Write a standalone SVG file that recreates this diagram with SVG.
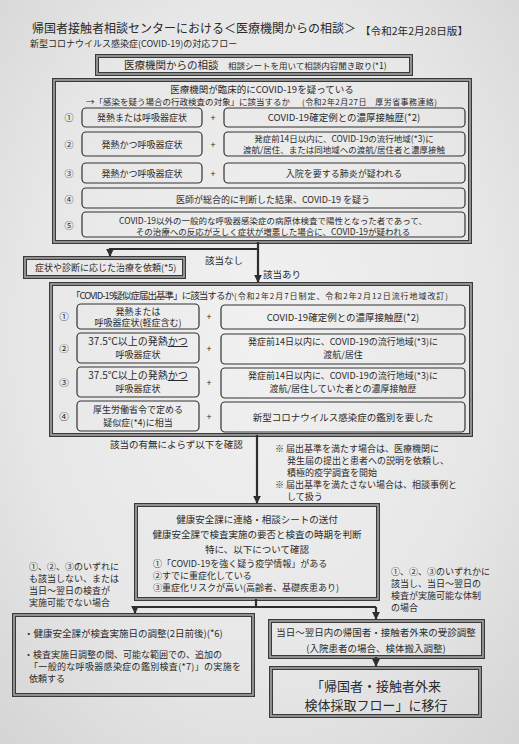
<svg xmlns="http://www.w3.org/2000/svg" width="519" height="744" viewBox="0 0 519 744">
<defs>
<radialGradient id="paper" cx="0.5" cy="0.45" r="0.75">
<stop offset="0" stop-color="#f1f1f1"/>
<stop offset="0.6" stop-color="#e7e7e7"/>
<stop offset="1" stop-color="#d4d4d4"/>
</radialGradient>
<marker id="arr" viewBox="0 0 10 10" refX="9" refY="5" markerWidth="3.6" markerHeight="3.6" orient="auto" markerUnits="strokeWidth">
<path d="M0,0 L10,5 L0,10 z" fill="#2e2e2e"/>
</marker>
</defs>
<style>
text{font-family:"Noto Sans CJK JP","Noto Sans",sans-serif;fill:#2a2a2a;}
.t12{font-size:12.5px;}
.t9{font-size:9px;}
.t85{font-size:8.5px;}
.t95{font-size:9.5px;}
.t8{font-size:8px;}
.big{font-size:13px;}
.m{text-anchor:middle;}
.dblo{fill:none;stroke:#3a3a3a;stroke-width:4;}
.dbli{fill:none;stroke:#a6a6a6;stroke-width:1.6;}
.rb{fill:none;stroke:#333;stroke-width:1.2;}
.con{fill:none;stroke:#2e2e2e;stroke-width:2.2;}
</style>
<rect x="0" y="0" width="519" height="744" fill="url(#paper)"/>

<g id="title">
<text class="t12" x="32" y="32.5" textLength="324" lengthAdjust="spacingAndGlyphs">帰国者接触者相談センターにおける＜医療機関からの相談＞</text>
<text x="360" y="35" style="font-size:10px" textLength="108" lengthAdjust="spacingAndGlyphs">【令和2年2月28日版】</text>
<text class="t9" x="30" y="46.5">新型コロナウイルス感染症(COVID-19)の対応フロー</text>
</g>

<g id="n-consult">
<rect class="dblo" x="97" y="56" width="314" height="18"/>
<rect class="dbli" x="97" y="56" width="314" height="18"/>
<text x="124" y="68.5" style="font-size:10.5px">医療機関からの相談</text>
<text x="228" y="68.5" style="font-size:8.5px">相談シートを用いて相談内容聞き取り(*1)</text>
</g>

<g id="n-boxA">
<rect class="dblo" x="54" y="80" width="416" height="162"/>
<rect class="dbli" x="54" y="80" width="416" height="162"/>
<text class="t95 m" x="262" y="93">医療機関が臨床的にCOVID-19を疑っている</text>
<text class="t85" x="86" y="104.5">→「感染を疑う場合の行政検査の対象」に該当するか</text>
<text class="t8" x="302" y="104.5" textLength="135">(令和2年2月27日　厚労省事務連絡)</text>
</g>

<g id="n-a1">
<text class="t9 m" x="69" y="121">①</text>
<rect class="rb" x="82" y="108" width="120" height="19" rx="4"/>
<text class="t9 m" x="142" y="121">発熱または呼吸器症状</text>
<text class="t9 m" x="213" y="121">+</text>
<rect class="rb" x="224" y="108" width="241" height="19" rx="4"/>
<text class="t95 m" x="344" y="121">COVID-19確定例との濃厚接触歴(*2)</text>
</g>
<g id="n-a2">
<text class="t9 m" x="69" y="147.5">②</text>
<rect class="rb" x="82" y="132" width="120" height="24" rx="4"/>
<text class="t9 m" x="142" y="147.5">発熱かつ呼吸器症状</text>
<text class="t9 m" x="213" y="147.5">+</text>
<rect class="rb" x="224" y="132" width="241" height="24" rx="4"/>
<text class="t85 m" x="344" y="142">発症前14日以内に、COVID-19の流行地域(*3)に</text>
<text class="t85 m" x="344" y="152.5">渡航/居住、または同地域への渡航/居住者と濃厚接触</text>
</g>
<g id="n-a3">
<text class="t9 m" x="69" y="176.5">③</text>
<rect class="rb" x="82" y="163" width="120" height="20" rx="4"/>
<text class="t9 m" x="142" y="176.5">発熱かつ呼吸器症状</text>
<text class="t9 m" x="213" y="176.5">+</text>
<rect class="rb" x="224" y="163" width="241" height="20" rx="4"/>
<text class="t9 m" x="344" y="176.5">入院を要する肺炎が疑われる</text>
</g>
<g id="n-a4">
<text class="t9 m" x="69" y="202.5">④</text>
<rect class="rb" x="82" y="188" width="383" height="20" rx="4"/>
<text class="t9 m" x="273" y="202.5">医師が総合的に判断した結果、COVID-19 を疑う</text>
</g>
<g id="n-a5">
<text class="t9 m" x="69" y="228.5">⑤</text>
<rect class="rb" x="82" y="212" width="383" height="25" rx="4"/>
<text class="t85 m" x="273" y="223.5">COVID-19以外の一般的な呼吸器感染症の病原体検査で陽性となった者であって、</text>
<text class="t85 m" x="273" y="234.5">その治療への反応が乏しく症状が増悪した場合に、COVID-19が疑われる</text>
</g>

<g id="n-treat">
<rect class="dblo" x="25" y="258" width="159" height="19"/>
<rect class="dbli" x="25" y="258" width="159" height="19"/>
<text class="t9" x="35" y="271">症状や診断に応じた治療を依頼(*5)</text>
</g>

<g id="n-boxB">
<rect class="dblo" x="51" y="284" width="420" height="151"/>
<rect class="dbli" x="51" y="284" width="420" height="151"/>
<text class="t95" x="71" y="299" textLength="163">「COVID-19疑似症届出基準」に該当するか</text>
<text class="t8" x="234" y="299" textLength="214">(令和2年2月7日制定、令和2年2月12日流行地域改訂)</text>
</g>
<g id="n-b1">
<text class="t95 m" x="64" y="319.5">①</text>
<rect class="rb" x="77" y="304" width="122" height="25" rx="4"/>
<text class="t9 m" x="138" y="314.5">発熱または</text>
<text class="t9 m" x="138" y="326">呼吸器症状(軽症含む)</text>
<text class="t9 m" x="209" y="320">+</text>
<rect class="rb" x="221" y="305" width="244" height="24" rx="4"/>
<text class="t95 m" x="343" y="320.5">COVID-19確定例との濃厚接触歴(*2)</text>
</g>
<g id="n-b2">
<text class="t95 m" x="64" y="351.5">②</text>
<rect class="rb" x="77" y="333" width="122" height="30" rx="4"/>
<text class="m" x="138" y="345" style="font-size:10px">37.5℃以上の発熱<tspan text-decoration="underline">かつ</tspan></text>
<text class="t9 m" x="138" y="357.5">呼吸器症状</text>
<text class="t9 m" x="209" y="352">+</text>
<rect class="rb" x="221" y="334" width="244" height="30" rx="4"/>
<text class="t9 m" x="343" y="345">発症前14日以内に、COVID-19の流行地域(*3)に</text>
<text class="t9 m" x="343" y="357.5">渡航/居住</text>
</g>
<g id="n-b3">
<text class="t95 m" x="64" y="385.5">③</text>
<rect class="rb" x="77" y="367" width="122" height="30" rx="4"/>
<text class="m" x="138" y="379" style="font-size:10px">37.5℃以上の発熱<tspan text-decoration="underline">かつ</tspan></text>
<text class="t9 m" x="138" y="391.5">呼吸器症状</text>
<text class="t9 m" x="209" y="386">+</text>
<rect class="rb" x="221" y="368" width="244" height="30" rx="4"/>
<text class="t9 m" x="343" y="379">発症前14日以内に、COVID-19の流行地域(*3)に</text>
<text class="t9 m" x="343" y="391.5">渡航/居住していた者との濃厚接触歴</text>
</g>
<g id="n-b4">
<text class="t95 m" x="64" y="419.5">④</text>
<rect class="rb" x="77" y="401" width="122" height="30" rx="4"/>
<text class="t9 m" x="138" y="413">厚生労働省令で定める</text>
<text class="t9 m" x="138" y="425.5">疑似症(*4)に相当</text>
<text class="t9 m" x="209" y="420">+</text>
<rect class="rb" x="221" y="402" width="244" height="30" rx="4"/>
<text class="t95 m" x="343" y="420.5">新型コロナウイルス感染症の鑑別を要した</text>
</g>

<g id="n-check-note">
<text class="t95" x="110" y="448">該当の有無によらず以下を確認</text>
</g>
<g id="n-notes">
<text class="t9" x="275" y="451.5">※ 届出基準を満たす場合は、医療機関に</text>
<text class="t9" x="287" y="463.5">発生届の提出と患者への説明を依頼し、</text>
<text class="t9" x="287" y="475.5">積極的疫学調査を開始</text>
<text class="t9" x="275" y="487.5">※ 届出基準を満たさない場合は、相談事例と</text>
<text class="t9" x="287" y="499.5">して扱う</text>
</g>

<g id="n-center">
<rect class="dblo" x="136" y="505" width="242" height="94"/>
<rect class="dbli" x="136" y="505" width="242" height="94"/>
<text class="t95 m" x="257" y="523">健康安全課に連絡・相談シートの送付</text>
<text class="t95 m" x="257" y="538">健康安全課で検査実施の要否と検査の時期を判断</text>
<text class="t95 m" x="257" y="552.5">特に、以下について確認</text>
<text class="t9" x="153" y="567">①「COVID-19を強く疑う疫学情報」がある</text>
<text class="t9" x="153" y="579">②すでに重症化している</text>
<text class="t9" x="153" y="591">③重症化リスクが高い(高齢者、基礎疾患あり)</text>
</g>

<g id="n-leftcond">
<text class="t9" x="29" y="570">①、②、③のいずれに</text>
<text class="t9" x="29" y="582">も該当しない、または</text>
<text class="t9" x="29" y="594">当日～翌日の検査が</text>
<text class="t9" x="29" y="606">実施可能でない場合</text>
</g>
<g id="n-rightcond">
<text class="t9" x="391" y="575">①、②、③のいずれかに</text>
<text class="t9" x="391" y="587">該当し、当日～翌日の</text>
<text class="t9" x="391" y="599">検査が実施可能な体制</text>
<text class="t9" x="391" y="611">の場合</text>
</g>

<g id="n-left">
<rect class="dblo" x="14" y="615" width="239" height="80"/>
<rect class="dbli" x="14" y="615" width="239" height="80"/>
<text class="t95" x="24" y="636.5">・健康安全課が検査実施日の調整(2日前後)(*6)</text>
<text class="t9" x="24" y="657.5">・検査実施日調整の間、可能な範囲での、追加の</text>
<text class="t9" x="29" y="669.5" textLength="212">「一般的な呼吸器感染症の鑑別検査(*7)」の実施を</text>
<text class="t9" x="29" y="681.5">依頼する</text>
</g>

<g id="n-right">
<rect class="dblo" x="270" y="621" width="213" height="36"/>
<rect class="dbli" x="270" y="621" width="213" height="36"/>
<text class="t95 m" x="376" y="636">当日～翌日内の帰国者・接触者外来の受診調整</text>
<text class="t95 m" x="376" y="652">(入院患者の場合、検体搬入調整)</text>
</g>

<g id="n-final">
<rect class="dblo" x="271" y="668" width="209" height="48"/>
<rect class="dbli" x="271" y="668" width="209" height="48"/>
<text class="big m" x="376" y="690.5">「帰国者・接触者外来</text>
<text class="big m" x="376" y="709.5">検体採取フロー」に移行</text>
</g>

<g id="connectors">
<path class="con" d="M258,242 V282" marker-end="url(#arr)"/>
<path class="con" d="M258,249 H110 V256" marker-end="url(#arr)"/>
<path class="con" d="M257,435 V503" marker-end="url(#arr)"/>
<path class="con" d="M256,599 V607 M135,607 H376"/>
<path class="con" d="M135,607 V613" marker-end="url(#arr)"/>
<path class="con" d="M376,607 V619" marker-end="url(#arr)"/>
<path class="con" d="M376,657 V666" marker-end="url(#arr)"/>
<text class="t95" x="205" y="264">該当なし</text>
<text class="t95" x="263" y="278">該当あり</text>
</g>
</svg>
